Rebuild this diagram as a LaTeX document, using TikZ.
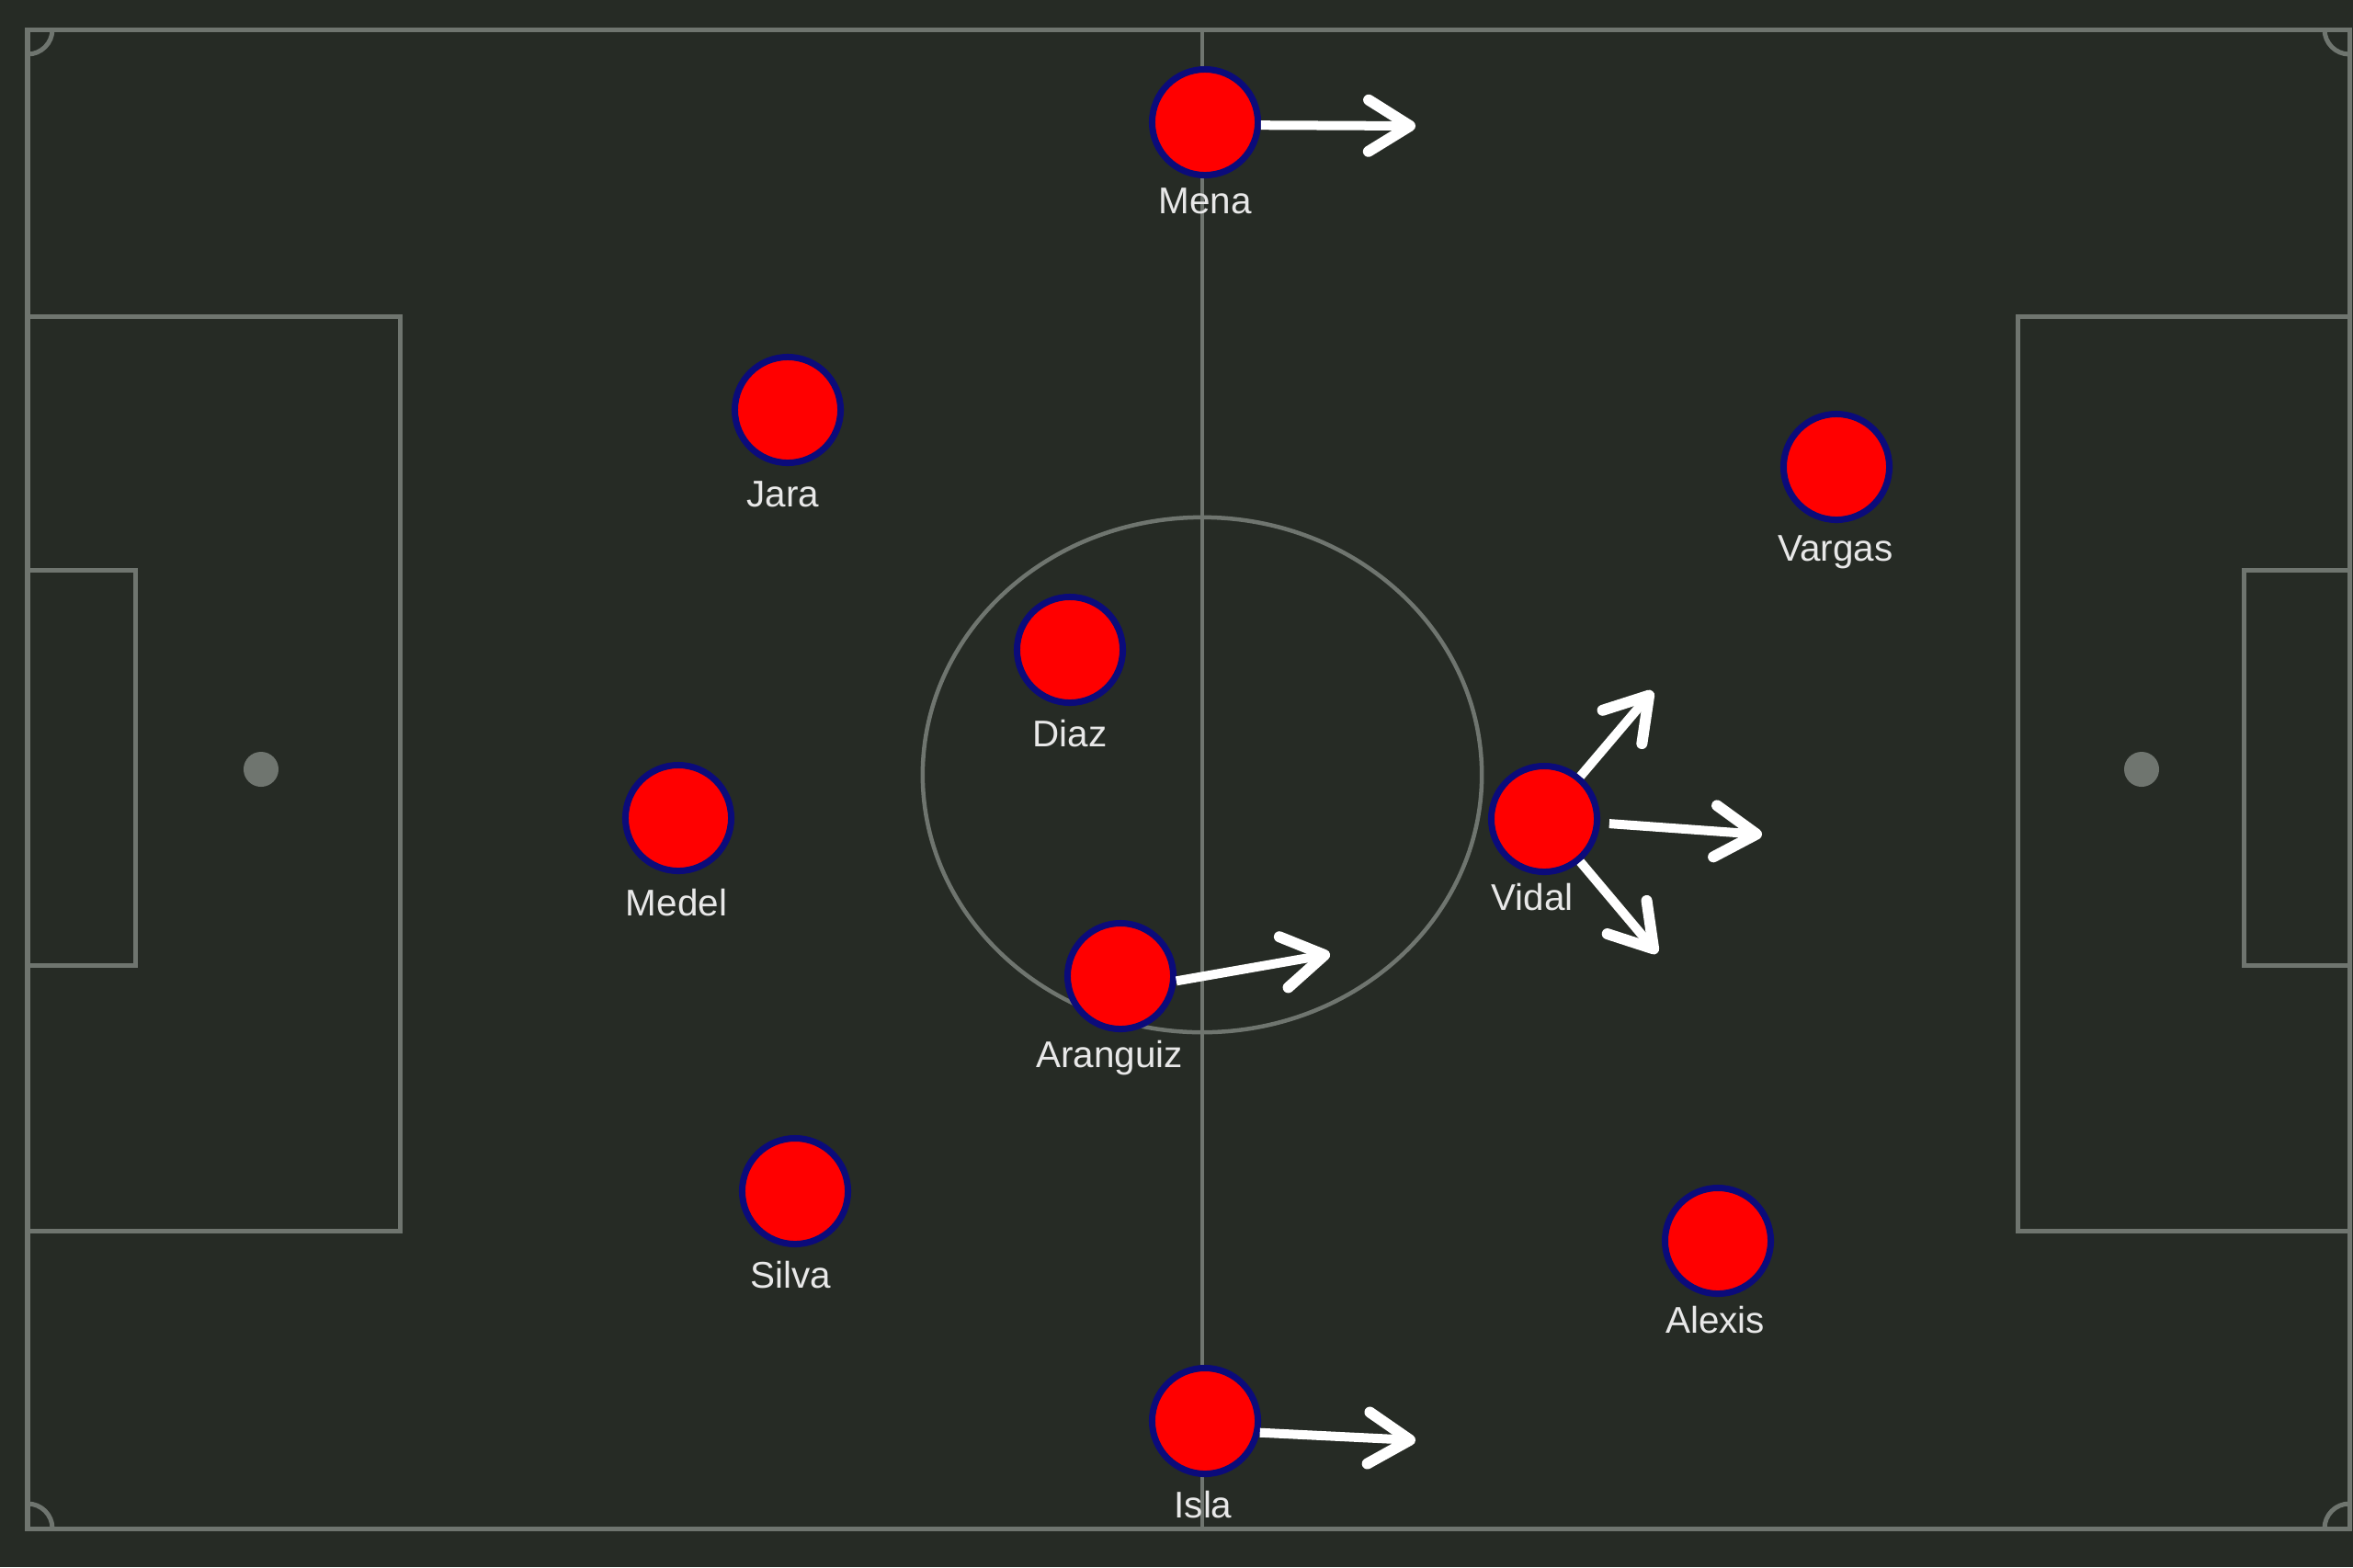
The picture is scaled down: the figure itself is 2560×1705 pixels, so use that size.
\documentclass[tikz,border=0pt]{standalone}
\usepackage{fontspec}
\setmainfont{Liberation Sans}
\usetikzlibrary{arrows.meta}
\definecolor{turf}{HTML}{262B25}
\definecolor{chalkline}{HTML}{6F756F}
\definecolor{kitred}{HTML}{FF0000}
\definecolor{kitnavy}{HTML}{0B0B7A}
\definecolor{tagtext}{HTML}{E8E8E8}

\begin{document}
\begin{tikzpicture}[x=0.01cm, y=-0.01cm, every node/.style={font=\fontsize{11.5}{14}\selectfont}, player/.style={circle, draw=kitnavy, fill=kitred, line width=0.07cm, minimum size=1.15cm, inner sep=0pt}, tag/.style={anchor=base, text=tagtext, inner sep=0pt}, chalk/.style={draw=chalkline, line width=0.05cm}, run/.style={draw=white, line width=0.1cm, -{Straight Barb[length=0.45cm, width=0.56cm, line width=0.12cm, round]}}]

                \useasboundingbox (0,0) rectangle (2560,1705);
                \fill[turf] (0,0) rectangle (2560,1705);

                % pitch markings
                \draw[chalk] (30,32) rectangle (2556,1663);
                \draw[chalk] (30,344) rectangle (435,1339);
                \draw[chalk] (2195,344) rectangle (2556,1339);
                \draw[chalk] (30,620) rectangle (147,1050);
                \draw[chalk] (2441,620) rectangle (2556,1050);
                \draw[chalk, line width=0.04cm] (1308,32) -- (1308,1663);
                \draw[chalk, line width=0.045cm] (1308,843) ellipse [x radius=3.04cm, y radius=2.80cm];
                \fill[chalkline] (284,837) circle [radius=0.19cm];
                \fill[chalkline] (2330,837) circle [radius=0.19cm];
                \draw[chalk] (57,32) arc[start angle=0, end angle=-90, radius=0.27cm];
                \draw[chalk] (2529,32) arc[start angle=180, end angle=270, radius=0.27cm];
                \draw[chalk] (57,1663) arc[start angle=0, end angle=90, radius=0.27cm];
                \draw[chalk] (2529,1663) arc[start angle=180, end angle=90, radius=0.27cm];

                % players
                \node[player] (mena)     at (1311,133)  {};
                \node[player] (jara)     at (857,446)   {};
                \node[player] (vargas)   at (1998,508)  {};
                \node[player] (diaz)     at (1164,707)  {};
                \node[player] (medel)    at (738,890)   {};
                \node[player] (vidal)    at (1680,891)  {};
                \node[player] (aranguiz) at (1219,1062) {};
                \node[player] (silva)    at (865,1296)  {};
                \node[player] (alexis)   at (1869,1350) {};
                \node[player] (isla)     at (1311,1546) {};

                \node[tag] (menaL)     at (1311,232)  {Mena};
                \node[tag] (jaraL)     at (852,551)   {Jara};
                \node[tag] (vargasL)   at (1997,610)  {Vargas};
                \node[tag] (diazL)     at (1164,812)  {Diaz};
                \node[tag] (medelL)    at (736,996)   {Medel};
                \node[tag] (vidalL)    at (1667,990)  {Vidal};
                \node[tag] (aranguizL) at (1207,1161) {Aranguiz};
                \node[tag] (silvaL)    at (860,1401)  {Silva};
                \node[tag] (alexisL)   at (1866,1450) {Alexis};
                \node[tag] (islaL)     at (1309,1651) {Isla};

                % runs
                \coordinate (menaT)     at (1540,137);
                \coordinate (aranguizT) at (1447,1038);
                \coordinate (vidalU)    at (1798,752);
                \coordinate (vidalR)    at (1917,908);
                \coordinate (vidalD)    at (1803,1037);
                \coordinate (islaT)     at (1540,1567);

                \draw[run] (mena.-3) -- (menaT);
                \draw[run] (aranguiz.-5) -- (aranguizT);
                \draw[run] (vidal) -- (vidalU);
                \draw[run, shorten <=0.1cm] (vidal) -- (vidalR);
                \draw[run] (vidal) -- (vidalD);
                \draw[run] (isla.-12) -- (islaT);
            \end{tikzpicture}
\end{document}
